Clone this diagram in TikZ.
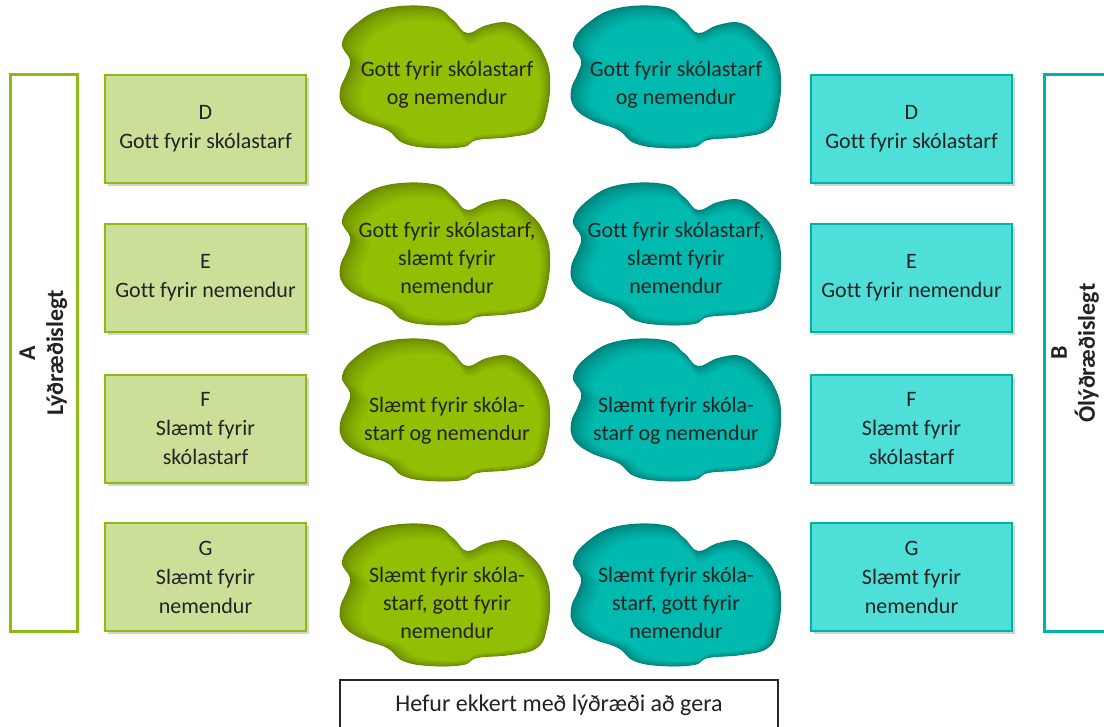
\documentclass[tikz,border=0pt]{standalone}
\usepackage{fontspec}
\setmainfont{Carlito}[Ligatures=NoCommon]
\usepackage{xcolor}
\usepackage{tikz}
\usetikzlibrary{shadows}
\definecolor{grnline}{RGB}{141,187,15}
\definecolor{grnfill}{RGB}{203,223,152}
\definecolor{grnblob}{RGB}{146,190,4}
\definecolor{grndark}{RGB}{104,134,0}
\definecolor{cynline}{RGB}{0,178,170}
\definecolor{cynfill}{RGB}{78,223,217}
\definecolor{cynblob}{RGB}{0,186,175}
\definecolor{cyndark}{RGB}{0,128,122}
\definecolor{txtgray}{RGB}{35,35,35}
\tikzset{
    tnode/.style = {align=center, inner sep=0pt, text centered, text=txtgray, font=\fontsize{11}{14.5}\selectfont},
    green_box/.style = {tnode, rectangle, draw=grnline, fill=grnfill, line width=1.3pt, minimum width=100.5pt, minimum height=54pt,
        drop shadow={shadow xshift=1.3pt, shadow yshift=-1.3pt, opacity=0.35}},
    cyan_box/.style = {green_box, draw=cynline, fill=cynfill},
    green_bar/.style = {tnode, rectangle, draw=grnline, fill=white, line width=1.5pt, minimum width=33.5pt, minimum height=278pt},
    cyan_bar/.style = {green_bar, draw=cynline},
    bar_text/.style = {tnode, rotate=90, font=\fontsize{12}{14}\selectfont\bfseries},
    blob_text/.style = {tnode, font=\fontsize{11}{14}\selectfont},
    base_box/.style = {tnode, rectangle, draw=black!85, fill=white, line width=1pt, minimum width=219pt, minimum height=25pt,
        font=\fontsize{12}{14}\selectfont}
}
\newcommand{\blobshape}[2]{%
    \foreach \i in {0,...,18} {
        \pgfmathsetmacro{\mix}{100*(\i/18)^0.7}
        \fill[#2blob!\mix!#2dark, shift={#1}, shift={(\i*0.32,\i*0.26)}, scale={1-0.0085*\i}]
            plot[smooth cycle, tension=0.7] coordinates {
                (-103,-35) (-88,-55) (-58,-70) (-12,-71) (8,-58) (22,-45) (42,-53) (65,-55)
                (85,-41) (98,-25) (105,-1) (102,32) (92,52) (65,59) (32,62) (18,69)
                (-15,70) (-42,65) (-58,52) (-85,42) (-102,29) (-105,12) (-98,-5) (-95,-18)};
    }
}

\begin{document}
\begin{tikzpicture}[x=0.5pt, y=-0.5pt]
    \useasboundingbox (0,0) rectangle (1104,727);

    \node [green_bar] (bar_a) at (43.5,353) {};
    \node [bar_text] (lbl_a) at (43.5,353) {A\\Lýðræðislegt};
    \node [cyan_bar] (bar_b) at (1077.5,353) {};
    \node [bar_text] (lbl_b) at (1075,353) {B\\Ólýðræðislegt};

    \node [green_box] (gd) at (205.5,129) {D\\Gott fyrir skólastarf};
    \node [green_box] (ge) at (205.5,278) {E\\Gott fyrir nemendur};
    \node [green_box] (gf) at (205.5,429) {F\\Slæmt fyrir\\skólastarf};
    \node [green_box] (gg) at (205.5,577) {G\\Slæmt fyrir\\nemendur};

    \node [cyan_box] (cd) at (911.5,129) {D\\Gott fyrir skólastarf};
    \node [cyan_box] (ce) at (911.5,278) {E\\Gott fyrir nemendur};
    \node [cyan_box] (cf) at (911.5,429) {F\\Slæmt fyrir\\skólastarf};
    \node [cyan_box] (cg) at (911.5,577) {G\\Slæmt fyrir\\nemendur};

    \foreach \y in {78,255,411,596} {
        \blobshape{(445,\y)}{grn}
        \blobshape{(676,\y)}{cyn}
    }

    \node [blob_text] (g1) at (447,85) {Gott fyrir skólastarf\\og nemendur};
    \node [blob_text] (g2) at (447,258) {Gott fyrir skólastarf,\\slæmt fyrir\\nemendur};
    \node [blob_text] (g3) at (447,421) {Slæmt fyrir skóla-\\starf og nemendur};
    \node [blob_text] (g4) at (447,603) {Slæmt fyrir skóla-\\starf, gott fyrir\\nemendur};

    \node [blob_text] (c1) at (676,85) {Gott fyrir skólastarf\\og nemendur};
    \node [blob_text] (c2) at (676,258) {Gott fyrir skólastarf,\\slæmt fyrir\\nemendur};
    \node [blob_text] (c3) at (676,421) {Slæmt fyrir skóla-\\starf og nemendur};
    \node [blob_text] (c4) at (676,603) {Slæmt fyrir skóla-\\starf, gott fyrir\\nemendur};

    \node [base_box] (none) at (559,705) {Hefur ekkert með lýðræði að gera};
\end{tikzpicture}
\end{document}
